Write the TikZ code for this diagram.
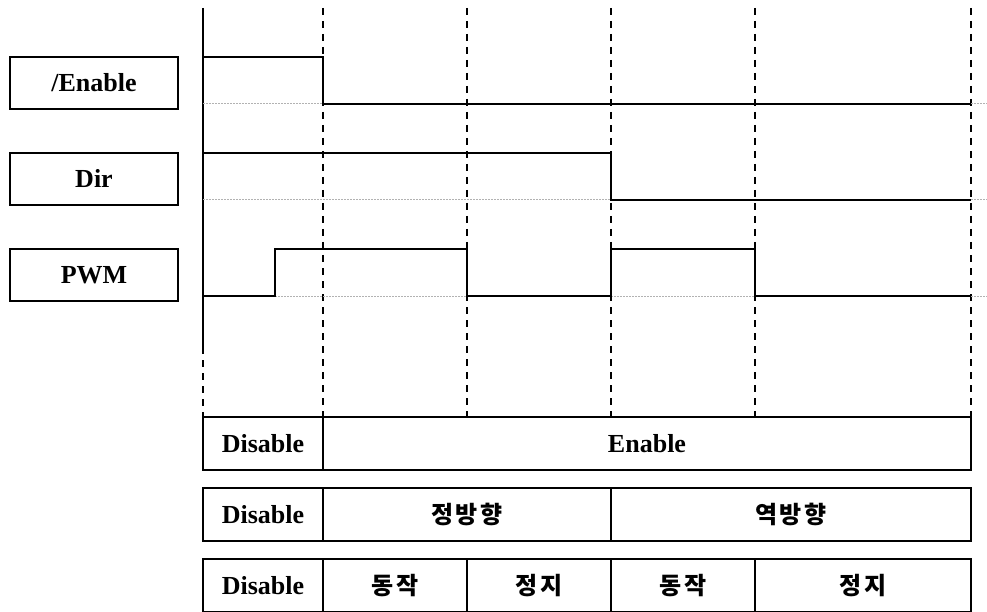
\documentclass[tikz,border=0pt]{standalone}
\usepackage{fontspec}
\setmainfont{Liberation Serif}
\newfontfamily\kor{Noto Sans CJK KR}[LetterSpace=12]
\usetikzlibrary{positioning}

\begin{document}
\begin{tikzpicture}[x=1pt,y=-1pt,line width=2pt,
    lbl/.style={draw, rectangle, minimum width=168pt, minimum height=52pt,
        inner sep=0, outer sep=0, font=\fontsize{26}{30}\selectfont\bfseries},
    cell/.style={draw, rectangle, minimum height=53pt,
        inner sep=0, outer sep=0, font=\fontsize{26}{30}\selectfont\bfseries},
    kcell/.style={cell, font=\kor\fontsize{24}{28}\selectfont\bfseries},
    guide/.style={line width=2pt, dash pattern=on 7pt off 6pt},
    base/.style={line width=1pt, gray!60, dash pattern=on 1.5pt off 1.5pt},
    wave/.style={line width=2pt, line join=miter}]

\useasboundingbox (0,0) rectangle (987,612);

% Signal names
\node[lbl] (enable) at (94,83) {/Enable};
\node[lbl, below=44pt of enable] (dir) {Dir};
\node[lbl, below=44pt of dir] (pwm) {PWM};

% State rows
\node[cell, minimum width=120pt] (dis1) at (263,443.5) {Disable};
\node[cell, minimum width=648pt, right=0pt of dis1] (en) {Enable};

\node[cell, minimum width=120pt, below=18pt of dis1] (dis2) {Disable};
\node[kcell, minimum width=288pt, right=0pt of dis2] (fwd) {정방향};
\node[kcell, minimum width=360pt, right=0pt of fwd] (rev) {역방향};

\node[cell, minimum width=120pt, below=18pt of dis2] (dis3) {Disable};
\node[kcell, minimum width=144pt, right=0pt of dis3] (run1) {동작};
\node[kcell, minimum width=144pt, right=0pt of run1] (stop1) {정지};
\node[kcell, minimum width=144pt, right=0pt of stop1] (run2) {동작};
\node[kcell, minimum width=216pt, right=0pt of run2] (stop2) {정지};

% Time axis and guides
\coordinate (t0) at (203,8);
\coordinate (t0e) at (203,347);
\draw (t0) -- (t0e);
\draw[guide] (t0e) -- (dis1.north west);
\foreach \t in {323,467,611,755,971}
    \draw[guide] (\t,8) -- (\t,417);

% Low levels
\draw[base] (203,104) -- (987,104);
\draw[base] (203,200) -- (987,200);
\draw[base] (203,296) -- (987,296);

% Waveforms
\draw[wave] (203,57) -- (323,57) -- (323,104) -- (971,104);
\draw[wave] (203,153) -- (611,153) -- (611,200) -- (971,200);
\draw[wave] (203,296) -- (275,296) -- (275,249) -- (467,249) -- (467,296)
    -- (611,296) -- (611,249) -- (755,249) -- (755,296) -- (971,296);

\end{tikzpicture}
\end{document}
